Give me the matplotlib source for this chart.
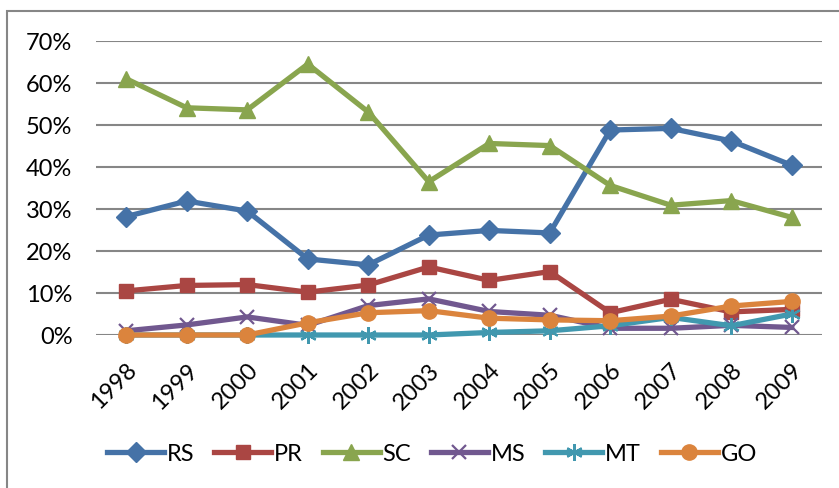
import matplotlib
matplotlib.use("Agg")
import matplotlib.pyplot as plt
from matplotlib.patches import Rectangle
from matplotlib.ticker import PercentFormatter

# data (percent)
years = ["1998", "1999", "2000", "2001", "2002", "2003",
         "2004", "2005", "2006", "2007", "2008", "2009"]
rs = [28.2, 31.9, 29.5, 18.1, 16.7, 23.8, 24.9, 24.3, 48.8, 49.2, 46.2, 40.4]
pr = [10.5, 11.8, 12.0, 10.2, 11.9, 16.2, 13.0, 15.1, 5.3, 8.5, 5.5, 6.1]
sc = [61.0, 54.1, 53.6, 64.5, 53.1, 36.5, 45.6, 45.1, 35.6, 30.9, 32.0, 28.0]
ms = [1.0, 2.4, 4.3, 2.3, 7.0, 8.6, 5.6, 4.7, 1.6, 1.6, 2.3, 1.8]
mt = [0.0, 0.0, 0.0, 0.0, 0.0, 0.0, 0.6, 1.0, 2.2, 4.2, 2.2, 5.0]
go = [0.0, 0.0, 0.0, 2.9, 5.3, 5.8, 4.0, 3.6, 3.4, 4.5, 6.9, 8.0]

series = [
    ("RS", rs, "#4572A7", "D", 10),
    ("PR", pr, "#AA4643", "s", 10),
    ("SC", sc, "#89A54E", "^", 11),
    ("MS", ms, "#71588F", "x", 10),
    ("MT", mt, "#4198AF", (6, 2, 0), 12),
    ("GO", go, "#DB843D", "o", 11),
]

plt.rcParams["font.family"] = ["Lato", "DejaVu Sans"]

fig = plt.figure(figsize=(8.39, 4.89), dpi=100)
ax = fig.add_axes([96 / 839, 1 - 336 / 489, 726 / 839, 294 / 489])

x = range(len(years))
for name, vals, color, marker, size in series:
    ax.plot(x, vals, color=color, lw=3.8, marker=marker, markersize=size,
            markeredgewidth=1.6 if marker in ("x", (6, 2, 0)) else 1,
            markeredgecolor=color, label=name, clip_on=False)

ax.set_xlim(-0.5, len(years) - 0.5)
ax.set_ylim(0, 70)
ax.set_yticks(range(0, 71, 10))
ax.yaxis.set_major_formatter(PercentFormatter(decimals=0))
ax.set_xticks(list(x))
ax.set_xticklabels(years, rotation=45, ha="right", rotation_mode="anchor")
ax.tick_params(axis="both", length=0, labelsize=17, colors="black")
ax.tick_params(axis="y", pad=17)
ax.tick_params(axis="x", pad=17)
ax.grid(axis="y", color="#868686", lw=1.5)
ax.set_axisbelow(True)
for s in ax.spines.values():
    s.set_visible(False)

fig.legend(loc="center", bbox_to_anchor=(432 / 839, 1 - 455 / 489), ncol=6,
           frameon=False, fontsize=17, handlelength=2.4, columnspacing=0.85,
           handletextpad=0.12)

fig.patches.append(Rectangle((7 / 839, -0.1), 1.0, 1 - 12 / 489 + 0.1,
                             transform=fig.transFigure, fill=False,
                             edgecolor="#868686", lw=1.5))

fig.savefig("out.png", dpi=100)
